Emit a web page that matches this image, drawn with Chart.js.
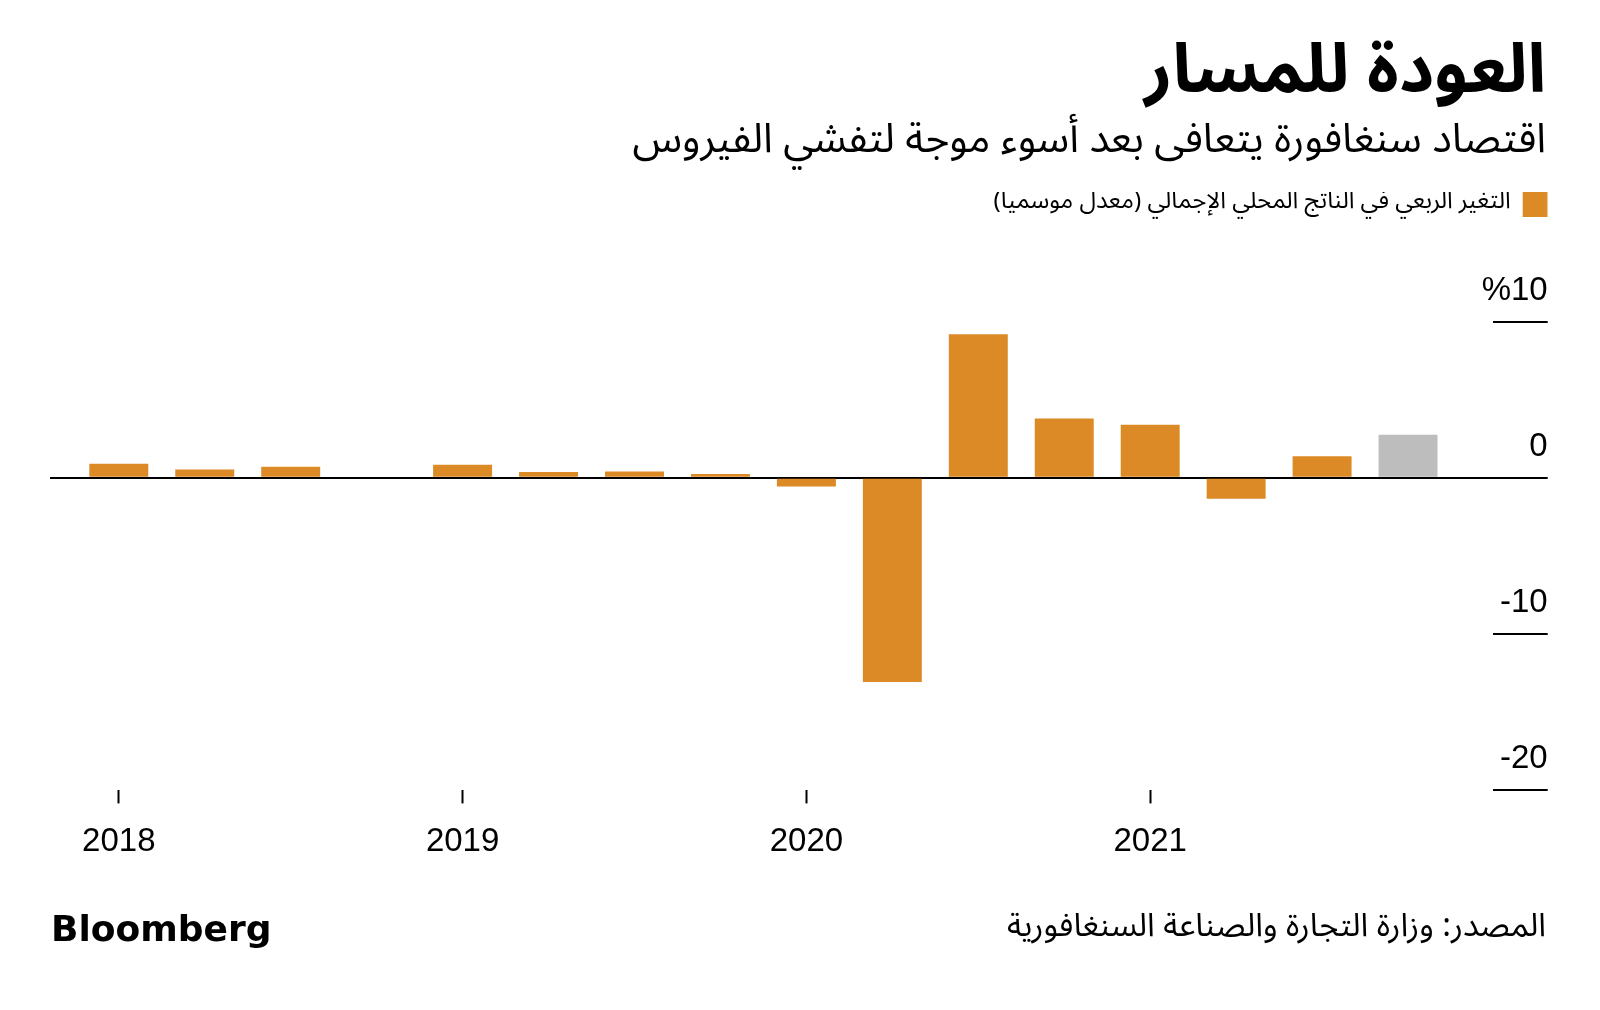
<!DOCTYPE html>
<html lang="ar">
<head>
<meta charset="utf-8">
<script src="https://cdn.jsdelivr.net/npm/chart.js@4.4.1/dist/chart.umd.min.js"></script>
<style>
html,body{margin:0;padding:0;background:#fff;}
#wrap{position:relative;width:1600px;height:1010px;overflow:hidden;background:#fff;}
canvas{position:absolute;left:0;top:0;direction:ltr;}
.t{position:absolute;right:54px;direction:rtl;white-space:nowrap;color:#000;font-family:"Noto Sans Arabic","DejaVu Sans",sans-serif;line-height:1;}
#title{top:37px;font-size:68px;font-weight:bold;}
#subtitle{top:119px;font-size:41px;}
#source{top:910px;font-size:32.5px;}
#logo{position:absolute;left:51px;top:911px;font-family:"DejaVu Sans",sans-serif;font-weight:bold;font-size:36px;letter-spacing:0px;line-height:1;color:#000;}
</style>
</head>
<body>
<div id="wrap">
<canvas id="c" width="1600" height="1010"></canvas>
<div class="t" id="title">العودة للمسار</div>
<div class="t" id="subtitle">اقتصاد سنغافورة يتعافى بعد أسوء موجة لتفشي الفيروس</div>
<div class="t" id="source">المصدر: وزارة التجارة والصناعة السنغافورية</div>
<div id="logo">Bloomberg</div>
</div>
<script>
// ---- data ----
const quarters = ['2018 Q1','2018 Q2','2018 Q3','2018 Q4','2019 Q1','2019 Q2','2019 Q3','2019 Q4',
                  '2020 Q1','2020 Q2','2020 Q3','2020 Q4','2021 Q1','2021 Q2','2021 Q3','2021 Q4'];
const gdpChange = [0.9, 0.53, 0.7, 0, 0.83, 0.37, 0.4, 0.24, -0.56, -13.1, 9.2, 3.8, 3.4, -1.35, 1.38, 2.75];
const advanceEstimate = [false,false,false,false,false,false,false,false,false,false,false,false,false,false,false,true];
const yearLabels = ['2018','2019','2020','2021'];
const yearFirstQuarter = ['2018 Q1','2019 Q1','2020 Q1','2021 Q1'];
const yTickValues = [-20, -10, 0, 10];
const seriesLabel = 'التغير الربعي في الناتج المحلي الإجمالي (معدل موسمياً)';

// ---- styles ----
const ORANGE = '#DB8A25';
const GREY = '#BDBDBD';
const numFont = '"Liberation Sans", Arial, sans-serif';
const arFont = '"Noto Sans Arabic", "DejaVu Sans", sans-serif';
const LRM = '\u200E';

const xTickValues = yearFirstQuarter.map(q => quarters.indexOf(q));
const yTop = yTickValues[yTickValues.length - 1];

new Chart(document.getElementById('c'), {
  type: 'bar',
  data: {
    datasets: [{
      label: seriesLabel,
      data: quarters.map((q, i) => ({x: i, y: gdpChange[i]})),
      backgroundColor: ctx => (ctx.dataIndex !== undefined && advanceEstimate[ctx.dataIndex]) ? GREY : ORANGE,
      borderWidth: 0,
      barPercentage: 0.686,
      categoryPercentage: 1
    }]
  },
  options: {
    responsive: false,
    animation: false,
    devicePixelRatio: 1,
    layout: { autoPadding: false, padding: { left: 50, right: 52.3, top: 192, bottom: 129 } },
    plugins: {
      legend: {
        display: true, position: 'top', align: 'start', rtl: true, textDirection: 'rtl',
        labels: { boxWidth: 25, boxHeight: 25, padding: 0, color: '#000', font: { size: 24, family: arFont } }
      },
      tooltip: { enabled: false }
    },
    scales: {
      x: {
        type: 'linear', min: -0.8005, max: 15.985, offset: false,
        afterBuildTicks: s => { s.ticks = xTickValues.map(v => ({ value: v })); },
        ticks: {
          autoSkip: false, maxRotation: 0, padding: 19, color: '#000',
          font: { size: 33, family: numFont },
          callback: v => yearLabels[xTickValues.indexOf(v)]
        },
        grid: { drawOnChartArea: false, drawTicks: true, tickLength: 13.7, tickColor: '#000', tickWidth: 2, offset: false },
        border: { display: false }
      },
      y: {
        position: 'right', min: -20, max: 16.07, z: 1,
        afterBuildTicks: s => { s.ticks = yTickValues.map(v => ({ value: v })); },
        afterFit: s => { s.width = 55; },
        ticks: {
          mirror: true, padding: 55, labelOffset: -31, color: '#000',
          font: { size: 33, family: numFont },
          callback: v => LRM + (v === yTop ? '%' + v : String(v))
        },
        grid: {
          color: ctx => (ctx.tick && ctx.tick.value === 0) ? '#000' : 'rgba(0,0,0,0)',
          lineWidth: 2, drawTicks: true, tickLength: 55, tickColor: '#000', tickWidth: 2
        },
        border: { display: false }
      }
    }
  }
});
</script>
</body>
</html>
